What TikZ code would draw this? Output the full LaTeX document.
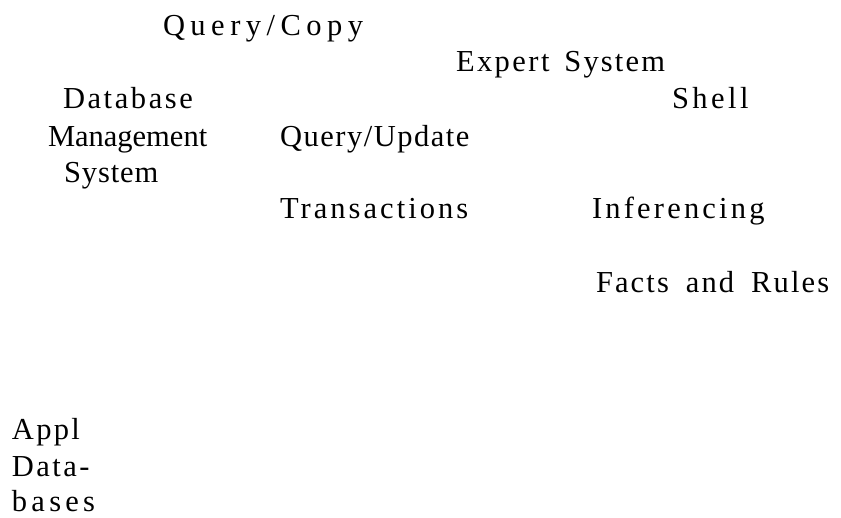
\documentclass[tikz,border=0pt]{standalone}
\usepackage{fontspec}
\setmainfont{Liberation Serif}
\newcommand{\lsp}[2]{{\addfontfeatures{LetterSpace=#1}#2}}
\begin{document}
\begin{tikzpicture}[x=1pt,y=-1pt,
  lbl/.style={anchor=base west, inner sep=0pt, outer sep=0pt,
    font=\fontsize{30.5}{37}\selectfont}]
\useasboundingbox (0,0) rectangle (841,517);
\node[lbl] (qc) at (163,35) {\lsp{18}{Query/Copy}};
\node[lbl] (es) at (456,71) {\lsp{8}{Expert}\hspace{15pt}\lsp{7}{System}};
\node[lbl] (db1) at (63,108) {\lsp{8.5}{Database}};
\node[lbl] (db2) at (48,146) {Management};
\node[lbl] (db3) at (64,182) {\lsp{3}{System}};
\node[lbl] (sh) at (672,108) {\lsp{11.5}{Shell}};
\node[lbl] (qu) at (280,146) {\lsp{5}{Query/Update}};
\node[lbl] (tr) at (280,218) {\lsp{10}{Transactions}};
\node[lbl] (inf) at (592,218) {\lsp{10.5}{Inferencing}};
\node[lbl] (fr) at (596,292) {\lsp{7}{Facts}\hspace{17pt}\lsp{7}{and}\hspace{17pt}\lsp{7}{Rules}};
\node[lbl] (ad1) at (12,439) {\lsp{7.5}{Appl}};
\node[lbl] (ad2) at (12,476) {\lsp{8}{Data-}};
\node[lbl] (ad3) at (12,511) {\lsp{14}{bases}};
\end{tikzpicture}
\end{document}
